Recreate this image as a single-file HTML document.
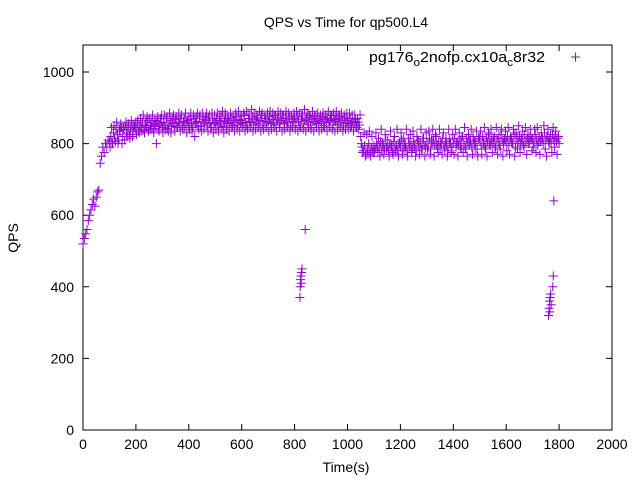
<!DOCTYPE html>
<html><head><meta charset="utf-8"><style>
body{margin:0;background:#fff}
svg{display:block;font-family:"Liberation Sans",sans-serif}
</style></head><body>
<svg id="chart" width="640" height="480">
<text x="346" y="27" font-size="14" text-anchor="middle">QPS vs Time for qp500.L4</text>
<g id="axes"></g>
<g id="marks"></g>
<text x="346" y="472" font-size="14" text-anchor="middle">Time(s)</text>
<text transform="translate(18,238) rotate(-90)" font-size="14" text-anchor="middle">QPS</text>
<g>
<text x="369" y="62" font-size="15" textLength="176" lengthAdjust="spacingAndGlyphs">pg176<tspan font-size="11" dy="4">o</tspan><tspan dy="-4">2nofp.cx10a</tspan><tspan font-size="11" dy="4">c</tspan><tspan dy="-4">8r32</tspan></text>
<path d="M571 57h9M575.5 52.5v9" stroke="#9400d3" stroke-width="1"/>
</g>
</svg>
<script>
const step = 5;
const qps = [
520,535,548,560,585,600,615,630,645,625,650,665,670,745,765,790,775,800,790,810,
805,820,800,830,815,840,825,810,835,845,820,838,850,830,845,825,840,850,835,845,
840,855,835,850,845,860,838,852,845,865,840,850,858,842,855,848,862,840,852,858,
845,860,850,870,842,855,865,848,858,850,868,845,860,855,870,850,862,845,858,865,
850,868,855,845,870,858,862,850,875,848,860,868,855,865,850,872,858,845,866,855,
860,870,852,865,858,875,848,862,870,855,866,858,872,850,865,860,875,852,868,858,
865,855,878,860,850,870,862,858,875,852,868,860,872,855,865,878,850,862,870,858,
862,875,855,868,860,878,852,866,872,858,865,880,855,870,862,858,875,850,868,862,
870,858,875,862,850,868,880,855,865,872,860,878,852,868,862,875,858,870,855,866,
862,875,850,868,858,872,860,865,878,852,868,862,870,855,875,860,866,850,872,858,
865,855,870,850,862,858,868,845,860,852,820,790,780,795,770,785,800,775,790,780,
795,785,800,775,790,805,780,795,785,810,790,780,800,790,775,805,785,795,780,800,
790,810,785,800,795,780,815,790,800,785,805,795,780,810,790,800,785,815,795,790,
805,790,815,785,800,810,795,820,790,805,785,800,815,790,805,795,780,810,800,790,
800,815,790,805,795,810,785,820,800,790,815,805,795,810,790,820,800,805,785,815,
810,795,820,800,790,815,805,825,795,810,800,820,790,815,805,795,825,810,800,815,
805,820,795,815,810,800,825,790,815,805,820,800,810,795,825,805,815,800,820,810,
815,800,825,810,795,820,805,815,800,830,810,820,805,815,800,825,810,820,805,815,
800];
const qpsExtraStart = 100;
const qpsExtra = [
790,845,800,850,805,860,800,840,855,800,845,810,860,820,855,815,865,820,850,860,
825,865,830,870,835,880,830,860,875,835,870,840,880,830,865,800,875,835,870,880,
830,880,840,875,835,885,830,870,880,835,875,845,885,835,880,840,870,885,830,875,
840,885,835,880,820,875,885,840,880,835,885,840,875,885,835,880,845,885,830,880,
840,885,835,880,845,890,830,885,840,880,835,885,845,880,835,885,840,890,835,880,
845,885,835,890,840,880,845,895,835,885,840,880,845,890,835,885,840,880,845,885,
835,890,840,885,845,880,835,890,845,885,835,880,840,890,845,885,835,880,845,885,
840,890,835,885,845,880,840,895,835,885,845,880,840,890,835,880,845,885,835,880,
840,885,845,880,835,890,845,880,840,885,835,890,840,880,845,885,835,880,840,885,
840,885,845,880,835,880,845,870,840,880,800,775,830,765,825,770,835,765,820,775,
775,830,790,815,765,840,800,770,825,785,810,765,835,795,770,820,780,840,765,805,
830,770,815,785,840,765,800,825,775,835,790,765,820,805,770,840,785,815,765,830,
785,835,770,810,840,765,825,795,775,840,805,770,830,785,815,765,840,800,775,825,
770,840,800,765,830,790,815,775,845,785,765,825,805,840,770,810,785,835,765,820,
835,770,810,845,785,765,830,800,840,775,815,790,845,770,825,785,840,765,810,835,
780,845,770,820,800,840,765,830,785,850,775,815,835,790,845,770,825,805,840,780,
790,840,775,845,805,770,830,815,850,785,765,840,800,825,775,845,790,835,770,820];
const outlierT = [820,822,824,826,828,821,825,840,1760,1762,1764,1766,1768,1770,1765,1778,1780,1776];
const outlierQ = [370,420,430,440,450,400,410,560,320,340,360,370,380,350,330,430,640,400];
const xTicks = [0,200,400,600,800,1000,1200,1400,1600,1800,2000];
const yTicks = [0,200,400,600,800,1000];

const L=83,R=612,T=45,B=430;
const xs = v => L + v*(R-L)/2000;
const ys = v => B - v*(B-72)/1000;
const NS="http://www.w3.org/2000/svg";
const axes=document.getElementById('axes'), marks=document.getElementById('marks');
function mk(tag,attrs,parent){const e=document.createElementNS(NS,tag);for(const k in attrs)e.setAttribute(k,attrs[k]);parent.appendChild(e);return e;}
const frame=mk('rect',{x:L,y:T,width:R-L,height:B-T,fill:'none',stroke:'#000','stroke-width':1},axes);


xTicks.forEach(v=>{
  const x=xs(v);
  mk('path',{d:`M${x} ${B}v-6M${x} ${T}v6`,stroke:'#000'},axes);
  const t=mk('text',{x:x,y:B+19,'font-size':14,'text-anchor':'middle'},axes);
  t.textContent=v;
  
  
});
yTicks.forEach(v=>{
  const y=ys(v);
  mk('path',{d:`M${L} ${y}h6M${R} ${y}h-6`,stroke:'#000'},axes);
  const t=mk('text',{x:L-9,y:y+5,'font-size':14,'text-anchor':'end'},axes);
  t.textContent=v;
  
  
});
let d='';
const plus=(x,y)=>`M${x-4.5} ${y}h9M${x} ${y-4.5}v9`;
qps.forEach((q,i)=>{d+=plus(xs(i*step),ys(q));});
qpsExtra.forEach((q,i)=>{d+=plus(xs(qpsExtraStart+i*step+2.5),ys(q));});
outlierT.forEach((t,i)=>{d+=plus(xs(t),ys(outlierQ[i]));});
const p=mk('path',{d:d,stroke:'#9400d3','stroke-width':1,fill:'none'},marks);


</script>
</body></html>
